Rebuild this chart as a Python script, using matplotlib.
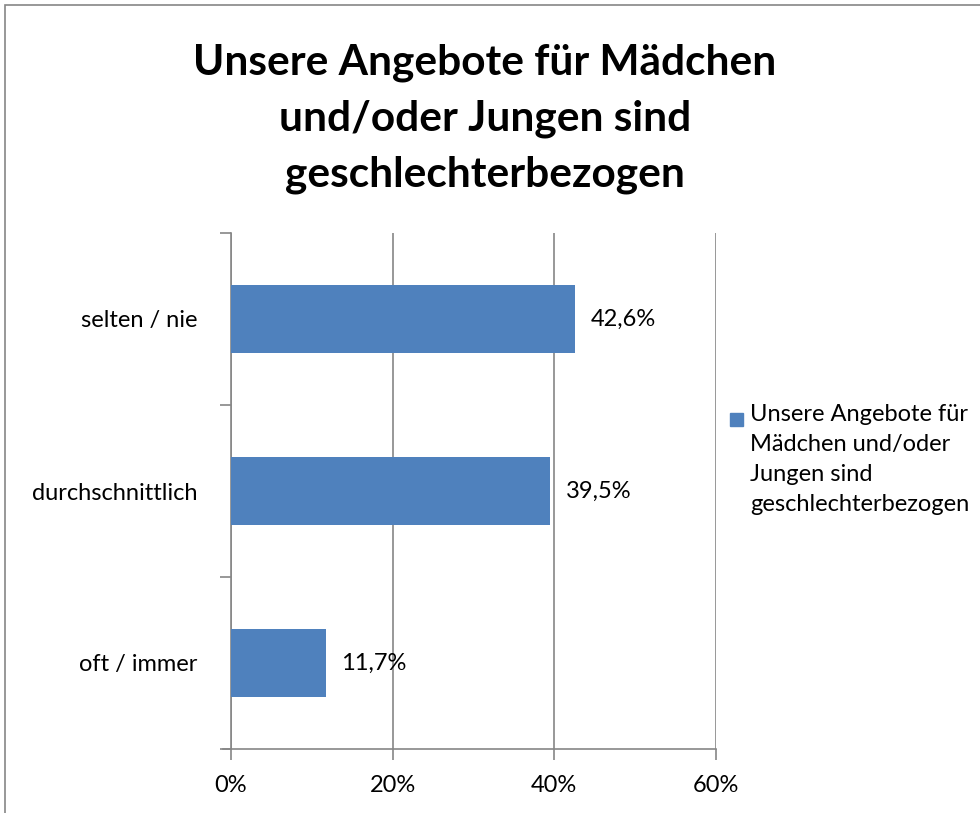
import matplotlib
matplotlib.use("Agg")
import matplotlib.pyplot as plt
from matplotlib.patches import Rectangle

categories = ["oft / immer", "durchschnittlich", "selten / nie"]
values = [11.7, 39.5, 42.6]
value_labels = ["11,7%", "39,5%", "42,6%"]
xticks = [0, 20, 40, 60]
xtick_labels = ["0%", "20%", "40%", "60%"]
title = "Unsere Angebote für Mädchen\nund/oder Jungen sind\ngeschlechterbezogen"
legend_label = "Unsere Angebote für\nMädchen und/oder\nJungen sind\ngeschlechterbezogen"

plt.rcParams['font.family'] = ['Lato', 'DejaVu Sans']
W, H = 980, 813
fig = plt.figure(figsize=(W / 100, H / 100), dpi=100)

# outer frame
fig.patches.append(Rectangle((5 / W, -0.01), 1.02, 1 - 5 / H + 0.01, transform=fig.transFigure,
                             fill=False, edgecolor="#868686", linewidth=1.2))

ax = fig.add_axes([231 / W, 1 - 749 / H, (716 - 231) / W, (749 - 233) / H])
bar_color = "#4F81BD"
grid_color = "#868686"
fs = 17
ax.barh(range(len(categories)), values, height=0.4, color=bar_color, zorder=3)
ax.set_xlim(0, 60)
ax.set_ylim(-0.5, len(categories) - 0.5)
ax.set_xticks(xticks)
ax.set_xticklabels(xtick_labels, fontsize=fs)
ax.set_yticks(range(len(categories)))
ax.set_yticklabels(categories, fontsize=fs)
ax.set_yticks([i - 0.5 for i in range(len(categories) + 1)], minor=True)
ax.tick_params(axis='y', which='major', length=0, pad=24)
ax.tick_params(axis='y', which='minor', length=8, width=1.2, color=grid_color)
ax.tick_params(axis='x', length=8, width=1.2, color=grid_color, pad=11)
ax.xaxis.grid(True, color=grid_color, linewidth=1.2, zorder=0)
for s in ['top', 'right']:
    ax.spines[s].set_visible(False)
for s in ['left', 'bottom']:
    ax.spines[s].set_color(grid_color)
    ax.spines[s].set_linewidth(1.2)
ax.spines['bottom'].set_bounds(-1, 60)
ax.spines['bottom'].set_clip_on(False)

for i, (v, lab) in enumerate(zip(values, value_labels)):
    ax.annotate(lab, (v, i), xytext=(11, 0), textcoords='offset points',
                va='center', ha='left', fontsize=fs, zorder=4)

fig.text(485 / W, 1 - 119 / H, title, ha='center', va='center', fontsize=30.5,
         fontweight='bold', linespacing=1.57)

# legend
fig.patches.append(Rectangle((730 / W, 1 - 426 / H), 13 / W, 13 / H, transform=fig.transFigure,
                             color=bar_color))
fig.text(750 / W, 1 - 404 / H, legend_label, ha='left', va='top', fontsize=fs, linespacing=1.52)

fig.savefig("out.png", dpi=100)
